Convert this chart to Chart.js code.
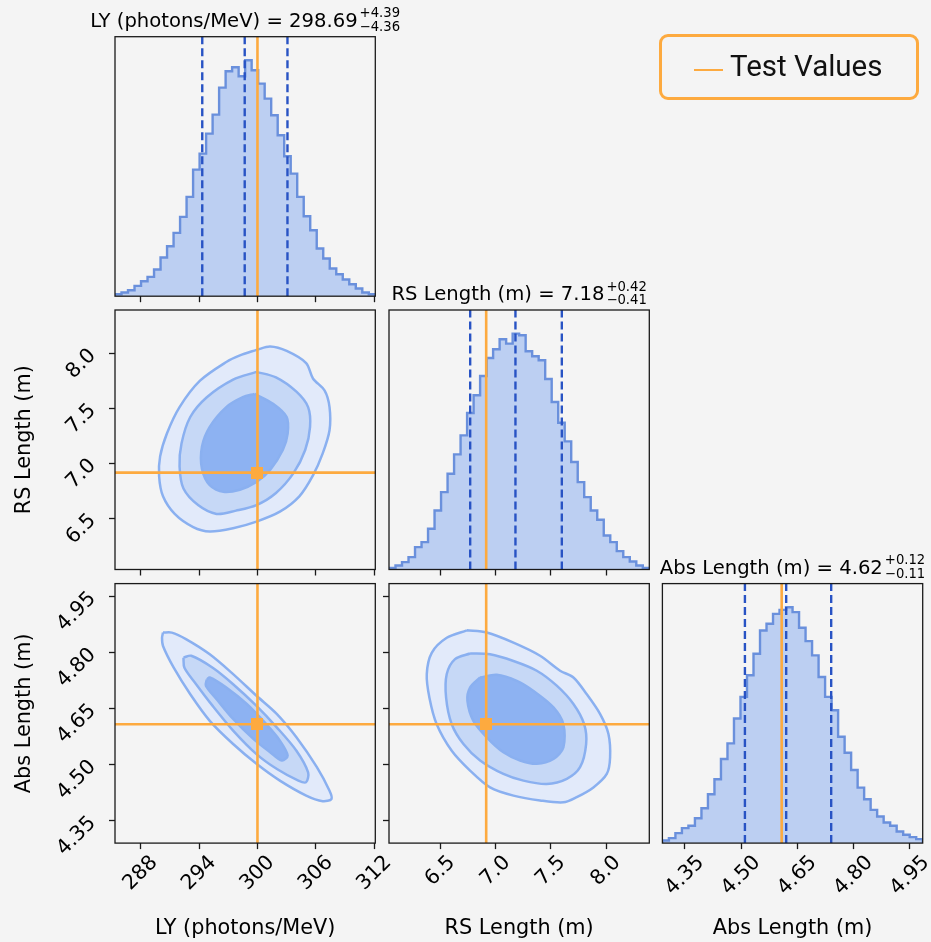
<!DOCTYPE html>
<html>
<head>
<meta charset="utf-8">
<script src="https://cdn.jsdelivr.net/npm/chart.js@4.4.1/dist/chart.umd.min.js"></script>
<style>
  body { margin: 0; background: #f4f4f4; width: 931px; height: 942px; overflow: hidden; position: relative; }
  canvas.panel { position: absolute; left: 0; top: 0; }
  #legend { position: absolute; left: 659px; top: 34px; width: 260px; height: 66px; box-sizing: border-box;
            border: 3px solid #fdaa3f; border-radius: 9px; }
  #legend .swatch { position: absolute; left: 32px; top: 32px; width: 29px; height: 2px; background: #fdaa3f; }
  #legend .txt { position: absolute; left: 68px; top: 15px; font: 29.5px Roboto, sans-serif; line-height: 1; color: #111; white-space: nowrap; }
</style>
</head>
<body>
<canvas id="histLY" class="panel" width="931" height="942"></canvas>
<canvas id="histRS" class="panel" width="931" height="942"></canvas>
<canvas id="histAbs" class="panel" width="931" height="942"></canvas>
<canvas id="lyRs" class="panel" width="931" height="942"></canvas>
<canvas id="lyAbs" class="panel" width="931" height="942"></canvas>
<canvas id="rsAbs" class="panel" width="931" height="942"></canvas>
<div id="legend"><span class="swatch"></span><span class="txt">Test Values</span></div>
<script>
// axis ranges and ticks
const lyRange = [285.37, 312.1];
const rsRange = [6.035, 8.392];
const absRange = [4.290, 4.984];
const lyTicks = [288, 294, 300, 306, 312];
const rsTicks = [6.5, 7.0, 7.5, 8.0];
const absTicks = [4.35, 4.50, 4.65, 4.80, 4.95];

// 1D histograms (40 bins over the axis range)
const lyCounts = [6, 11, 18, 31, 45, 58, 80, 116, 150, 190, 238, 298, 380, 428, 488, 545, 626, 675, 687, 660,
                  708, 678, 638, 593, 543, 483, 420, 368, 298, 240, 198, 143, 113, 83, 66, 50, 36, 23, 11, 6];
const rsCounts = [5, 12, 22, 37, 67, 82, 122, 177, 232, 287, 345, 402, 469, 522, 580, 634, 660, 690, 677, 707,
                  702, 654, 639, 627, 571, 502, 440, 384, 322, 262, 217, 177, 149, 102, 82, 55, 37, 24, 12, 5];
const absCounts = [8, 15, 30, 45, 52, 75, 105, 147, 192, 253, 300, 375, 440, 505, 570, 640, 660, 690, 702, 710,
                   695, 648, 608, 565, 500, 440, 400, 320, 272, 220, 167, 132, 100, 80, 62, 52, 35, 25, 18, 12];

// 16/50/84 % quantiles
const lyQuant = [294.33, 298.69, 303.08];
const rsQuant = [6.77, 7.18, 7.60];
const absQuant = [4.51, 4.62, 4.74];

// test (truth) values
const truthLY = 300;
const truthRS = 6.915;
const truthAbs = 4.608;

// 2D contour levels: outer, middle, inner
const lyRsOuter = [[299.9,8.03],[301.3,8.06],[303.0,8.02],[305.0,7.91],[305.7,7.77],[306.9,7.66],[307.4,7.51],[307.4,7.30],
  [306.7,7.09],[305.7,6.89],[304.3,6.70],[302.3,6.56],[299.9,6.47],[297.5,6.41],[295.1,6.38],[293.4,6.42],[291.5,6.54],
  [290.3,6.70],[289.9,6.88],[290.0,7.06],[290.7,7.27],[292.0,7.51],[294.1,7.75],[296.8,7.92],[298.2,7.98]];
const lyRsMid = [[299.9,7.83],[301.9,7.78],[304.0,7.65],[305.2,7.51],[305.4,7.33],[304.9,7.12],[303.7,6.91],[301.9,6.73],
  [299.9,6.62],[297.8,6.57],[295.8,6.54],[293.9,6.62],[292.4,6.77],[292.0,6.97],[292.2,7.18],[293.1,7.42],[294.8,7.60],[297.5,7.76]];
const lyRsInner = [[299.7,7.63],[301.6,7.54],[303.0,7.42],[303.1,7.27],[302.6,7.12],[301.3,6.94],[299.9,6.83],[298.2,6.76],
  [296.5,6.74],[295.1,6.80],[294.3,6.95],[294.3,7.15],[295.1,7.33],[296.8,7.51],[298.5,7.60]];

const lyAbsOuter = [[290.3,4.853],[291.2,4.853],[292.7,4.835],[295.1,4.795],[297.5,4.742],[299.9,4.684],[302.0,4.635],
  [304.0,4.573],[306.1,4.493],[307.4,4.430],[307.6,4.408],[306.7,4.402],[305.0,4.417],[302.3,4.457],[299.9,4.502],
  [297.5,4.555],[295.1,4.617],[293.1,4.688],[291.4,4.759],[290.3,4.817],[290.2,4.839]];
const lyAbsMid = [[292.4,4.786],[293.2,4.791],[295.4,4.759],[297.5,4.715],[299.9,4.657],[302.0,4.599],[304.0,4.537],
  [305.2,4.479],[305.0,4.453],[304.2,4.457],[302.0,4.488],[299.9,4.528],[297.5,4.591],[295.4,4.657],[293.7,4.715],[292.5,4.759]];
const lyAbsInner = [[294.8,4.728],[295.1,4.733],[296.8,4.706],[298.9,4.662],[300.9,4.608],[302.3,4.564],[303.1,4.524],
  [302.5,4.511],[301.3,4.533],[299.6,4.568],[297.5,4.622],[295.8,4.675],[294.7,4.711]];

const rsAbsOuter = [[6.739,4.859],[6.920,4.853],[7.162,4.826],[7.403,4.791],[7.584,4.751],[7.705,4.733],[7.826,4.688],
  [7.947,4.635],[8.022,4.582],[8.037,4.519],[8.007,4.475],[7.886,4.439],[7.735,4.413],[7.614,4.399],[7.403,4.404],
  [7.162,4.417],[6.950,4.439],[6.769,4.484],[6.603,4.537],[6.467,4.608],[6.401,4.679],[6.377,4.742],[6.422,4.799],[6.558,4.839]];
const rsAbsMid = [[6.769,4.797],[6.950,4.795],[7.162,4.777],[7.373,4.751],[7.554,4.711],[7.705,4.662],[7.802,4.608],
  [7.820,4.555],[7.765,4.493],[7.645,4.462],[7.463,4.448],[7.252,4.457],[7.071,4.475],[6.860,4.511],[6.709,4.555],
  [6.603,4.608],[6.552,4.679],[6.558,4.742],[6.633,4.782]];
const rsAbsInner = [[6.860,4.733],[7.011,4.740],[7.192,4.724],[7.343,4.697],[7.524,4.653],[7.614,4.608],[7.614,4.546],
  [7.524,4.515],[7.373,4.502],[7.222,4.511],[7.071,4.533],[6.920,4.573],[6.799,4.617],[6.745,4.671],[6.769,4.706]];

// layout of the grid (page pixels)
const PW = 260.3, PH = 259.5;
const colLeft = [115, 389, 662.4];
const rowTop = [36.7, 310, 583.6];

const orange = '#fdaa3f';
const histFill = '#bccff2';
const histLine = '#6a90dc';
const quantColor = '#2853c4';
const levelFill = ['#e2eafa', '#c6d8f6', '#8db2f2'];
const levelLine = '#8ab0f0';
const TICK_FONT = 20.5;

Chart.defaults.font.family = '"DejaVu Sans"';
Chart.defaults.color = '#000';

// square marker for the test values
const squareMark = document.createElement('canvas');
squareMark.width = 12; squareMark.height = 12;
(function () { const c = squareMark.getContext('2d'); c.fillStyle = orange; c.fillRect(0, 0, 12, 12); })();

function frameAndTitle(title) {
  return {
    id: 'frameAndTitle',
    afterDatasetsDraw(chart) {
      const { ctx, chartArea: a } = chart;
      ctx.save();
      ctx.strokeStyle = '#1a1a1a';
      ctx.lineWidth = 1.3;
      ctx.strokeRect(a.left, a.top, a.right - a.left, a.bottom - a.top);
      if (title) {
        ctx.fillStyle = '#000';
        ctx.textAlign = 'left';
        ctx.textBaseline = 'alphabetic';
        ctx.font = '19.6px "DejaVu Sans"';
        const wMain = ctx.measureText(title.main).width;
        ctx.font = '13.2px "DejaVu Sans"';
        const wScr = Math.max(ctx.measureText(title.up).width, ctx.measureText(title.down).width);
        const x0 = (a.left + a.right) / 2 - (wMain + 2 + wScr) / 2;
        const y0 = a.top - 10;
        ctx.fillText(title.up, x0 + wMain + 2, y0 - 9.4);
        ctx.fillText(title.down, x0 + wMain + 2, y0 + 4.3);
        ctx.font = '19.6px "DejaVu Sans"';
        ctx.fillText(title.main, x0, y0);
      }
      ctx.restore();
    }
  };
}

// 45 degree tick labels placed like matplotlib: x labels centred under the tick,
// y labels right-aligned against the tick marks
function tickLabels(xDec, yDec) {
  return {
    id: 'tickLabels',
    afterDraw(chart) {
      const { ctx, chartArea: a } = chart;
      const ink = 0.73 * TICK_FONT;
      ctx.save();
      ctx.font = TICK_FONT + 'px "DejaVu Sans"';
      ctx.fillStyle = '#000';
      ctx.textAlign = 'center';
      ctx.textBaseline = 'middle';
      const put = (txt, cx, cy) => {
        ctx.save(); ctx.translate(cx, cy); ctx.rotate(-Math.PI / 4); ctx.fillText(txt, 0, 0); ctx.restore();
      };
      if (xDec !== null) {
        const sx = chart.scales.x;
        sx.ticks.forEach(t => {
          const txt = t.value.toFixed(xDec);
          const b = (ctx.measureText(txt).width + ink) * Math.SQRT1_2;
          put(txt, sx.getPixelForValue(t.value), a.bottom + 11 + b / 2);
        });
      }
      if (yDec !== null) {
        const sy = chart.scales.y;
        sy.ticks.forEach(t => {
          const txt = t.value.toFixed(yDec);
          const b = (ctx.measureText(txt).width + ink) * Math.SQRT1_2;
          put(txt, a.left - 17 - b / 2, sy.getPixelForValue(t.value) - 6 + b / 2);
        });
      }
      ctx.restore();
    }
  };
}

function axis(pos, range, tickVals, title, size) {
  const horiz = pos === 'bottom';
  return {
    type: 'linear', position: pos, min: range[0], max: range[1],
    afterBuildTicks: s => { s.ticks = tickVals.map(v => ({ value: v })); },
    afterFit: s => { if (horiz) s.height = size; else s.width = size; },
    ticks: { display: false, autoSkip: false },
    grid: { drawOnChartArea: false, drawTicks: true, tickLength: 6, tickWidth: 1.3, tickColor: '#1a1a1a' },
    border: { display: false },
    title: {
      display: !!title, text: title || '', color: '#000', font: { family: '"DejaVu Sans"', size: 20.8 },
      padding: horiz ? { top: 0, bottom: 0.5 } : { top: 12.5, bottom: 0 }
    }
  };
}

function baseOptions(col, row, scales, padLeft, xH) {
  const L = colLeft[col], T = rowTop[row];
  return {
    responsive: false, animation: false, events: [],
    layout: { padding: { left: padLeft, top: T, right: 931 - L - PW, bottom: 942 - T - PH - xH } },
    scales: scales,
    plugins: { legend: { display: false }, tooltip: { enabled: false } }
  };
}

function histChart(id, col, row, range, tickVals, dec, counts, quants, truth, labels, xTitle, title) {
  const n = counts.length, step = (range[1] - range[0]) / n;
  const pts = [{ x: range[0], y: 0 }];
  counts.forEach((c, i) => pts.push({ x: range[0] + i * step, y: c }));
  pts.push({ x: range[1], y: counts[n - 1] }, { x: range[1], y: 0 });
  const yMax = 1.1 * Math.max(...counts);
  const datasets = [{
    data: pts, showLine: true, stepped: 'before', fill: 'origin',
    backgroundColor: histFill, borderColor: histLine, borderWidth: 2.4, pointRadius: 0, order: 5
  }];
  quants.forEach(q => datasets.push({
    data: [{ x: q, y: 0 }, { x: q, y: yMax }], showLine: true,
    borderColor: quantColor, borderWidth: 2.4, borderDash: [8, 4], pointRadius: 0, order: 2
  }));
  datasets.push({
    data: [{ x: truth, y: 0 }, { x: truth, y: yMax }], showLine: true,
    borderColor: orange, borderWidth: 2.6, pointRadius: 0, order: 1
  });
  const xH = labels ? 942 - rowTop[row] - PH : 12;
  const scales = {
    x: axis('bottom', range, tickVals, xTitle, xH),
    y: { display: false, min: 0, max: yMax }
  };
  new Chart(document.getElementById(id), {
    type: 'scatter',
    data: { datasets },
    options: baseOptions(col, row, scales, colLeft[col], xH),
    plugins: [frameAndTitle(title), tickLabels(labels ? dec : null, null)]
  });
}

function pairChart(id, col, row, xr, xt, xd, yr, yt, yd, levels, tx, ty, xLab, yLab, xTitle, yTitle) {
  const datasets = [];
  levels.forEach((lv, i) => {
    const pts = lv.map(p => ({ x: p[0], y: p[1] }));
    pts.push({ x: lv[0][0], y: lv[0][1] });
    datasets.push({
      data: pts, showLine: true, fill: 'shape', tension: 0.3,
      backgroundColor: levelFill[i], borderColor: levelLine, borderWidth: 2.5, pointRadius: 0, order: 10 - i
    });
  });
  datasets.push({ data: [{ x: tx, y: yr[0] }, { x: tx, y: yr[1] }], showLine: true,
    borderColor: orange, borderWidth: 2.6, pointRadius: 0, order: 2 });
  datasets.push({ data: [{ x: xr[0], y: ty }, { x: xr[1], y: ty }], showLine: true,
    borderColor: orange, borderWidth: 2.6, pointRadius: 0, order: 2 });
  datasets.push({ data: [{ x: tx, y: ty }], pointStyle: squareMark, pointRadius: 6, order: 1 });
  const xH = xLab ? 942 - rowTop[row] - PH : 12;
  const yW = yLab ? colLeft[col] : 45;
  const scales = {
    x: axis('bottom', xr, xt, xTitle, xH),
    y: axis('left', yr, yt, yTitle, yW)
  };
  new Chart(document.getElementById(id), {
    type: 'scatter',
    data: { datasets },
    options: baseOptions(col, row, scales, colLeft[col] - yW, xH),
    plugins: [frameAndTitle(null), tickLabels(xLab ? xd : null, yLab ? yd : null)]
  });
}

histChart('histLY', 0, 0, lyRange, lyTicks, 0, lyCounts, lyQuant, truthLY, false, null,
  { main: 'LY (photons/MeV) = 298.69', up: '+4.39', down: '\u22124.36' });
histChart('histRS', 1, 1, rsRange, rsTicks, 1, rsCounts, rsQuant, truthRS, false, null,
  { main: 'RS Length (m) = 7.18', up: '+0.42', down: '\u22120.41' });
histChart('histAbs', 2, 2, absRange, absTicks, 2, absCounts, absQuant, truthAbs, true, 'Abs Length (m)',
  { main: 'Abs Length (m) = 4.62', up: '+0.12', down: '\u22120.11' });

pairChart('lyRs', 0, 1, lyRange, lyTicks, 0, rsRange, rsTicks, 1,
  [lyRsOuter, lyRsMid, lyRsInner], truthLY, truthRS, false, true, null, 'RS Length (m)');
pairChart('lyAbs', 0, 2, lyRange, lyTicks, 0, absRange, absTicks, 2,
  [lyAbsOuter, lyAbsMid, lyAbsInner], truthLY, truthAbs, true, true, 'LY (photons/MeV)', 'Abs Length (m)');
pairChart('rsAbs', 1, 2, rsRange, rsTicks, 1, absRange, absTicks, 2,
  [rsAbsOuter, rsAbsMid, rsAbsInner], truthRS, truthAbs, true, false, 'RS Length (m)', null);
</script>
</body>
</html>
